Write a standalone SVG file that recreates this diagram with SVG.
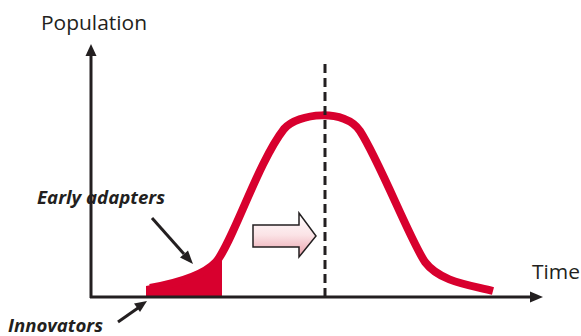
<svg xmlns="http://www.w3.org/2000/svg" width="581" height="336" viewBox="0 0 581 336">
<defs>
<style>
.lbl{font-family:"Open Sans","Noto Sans","Liberation Sans",sans-serif;fill:#231f20}
.ax{stroke:#231f20;stroke-width:3;fill:none}
.ptr{stroke:#231f20;stroke-width:3;fill:none}
.red{stroke:#d8002e;stroke-width:8;fill:none;stroke-linejoin:round}
</style>
<linearGradient id="pinkgrad" x1="0" y1="0" x2="0" y2="1">
<stop offset="0" stop-color="#ffffff"/>
<stop offset="0.5" stop-color="#fbe3e6"/>
<stop offset="1" stop-color="#eaa0aa"/>
</linearGradient>
</defs>
<rect width="581" height="336" fill="#ffffff"/>
<g id="population-label">
<text class="lbl" x="41" y="30" font-size="20" textLength="106" lengthAdjust="spacingAndGlyphs">Population</text>
</g>
<g id="time-label">
<text class="lbl" x="532" y="279" font-size="20" textLength="48" lengthAdjust="spacingAndGlyphs">Time</text>
</g>
<g id="early-adapters">
<text class="lbl" x="37" y="204" font-size="18" font-weight="bold" font-style="italic" textLength="128" lengthAdjust="spacingAndGlyphs">Early adapters</text>
</g>
<g id="innovators">
<text class="lbl" x="8" y="332" font-size="18" font-weight="bold" font-style="italic" textLength="95" lengthAdjust="spacingAndGlyphs">Innovators</text>
</g>
<g id="curve">
<path d="M146,297 L146,286 C175,281 200,275 214,263 L222,254 L222,297 Z" fill="#d8002e"/>
<path class="red" d="M150,288 C178,283 203,276 216,262 C232,244 258,162 284,129 C298,113 345,108 360,131 C380,162 410,240 425,262 C440,282 470,285 493,291"/>
</g>
<g id="median">
<line x1="325" y1="64" x2="325" y2="297" stroke="#231f20" stroke-width="3" stroke-dasharray="9 5"/>
</g>
<g id="shift-arrow">
<path d="M253,225 L299,225 L299,213 L316,236 L299,257 L299,247 L253,247 Z" fill="url(#pinkgrad)" stroke="#231f20" stroke-width="1.5" stroke-linejoin="miter"/>
</g>
<g id="connectors">
<line class="ax" x1="91" y1="298" x2="91" y2="54"/>
<polygon points="91,44 85.5,56 96.5,56" fill="#231f20"/>
<line class="ax" x1="90" y1="297" x2="532" y2="297"/>
<polygon points="543,297 530,291.5 530,302.5" fill="#231f20"/>
<line class="ptr" x1="152" y1="218" x2="184" y2="254"/>
<polygon points="193,264 180,257.5 188,250.5" fill="#231f20"/>
<line class="ptr" x1="118" y1="322" x2="138" y2="308"/>
<polygon points="147,301 134,303.5 140,312" fill="#231f20"/>
</g>
</svg>
